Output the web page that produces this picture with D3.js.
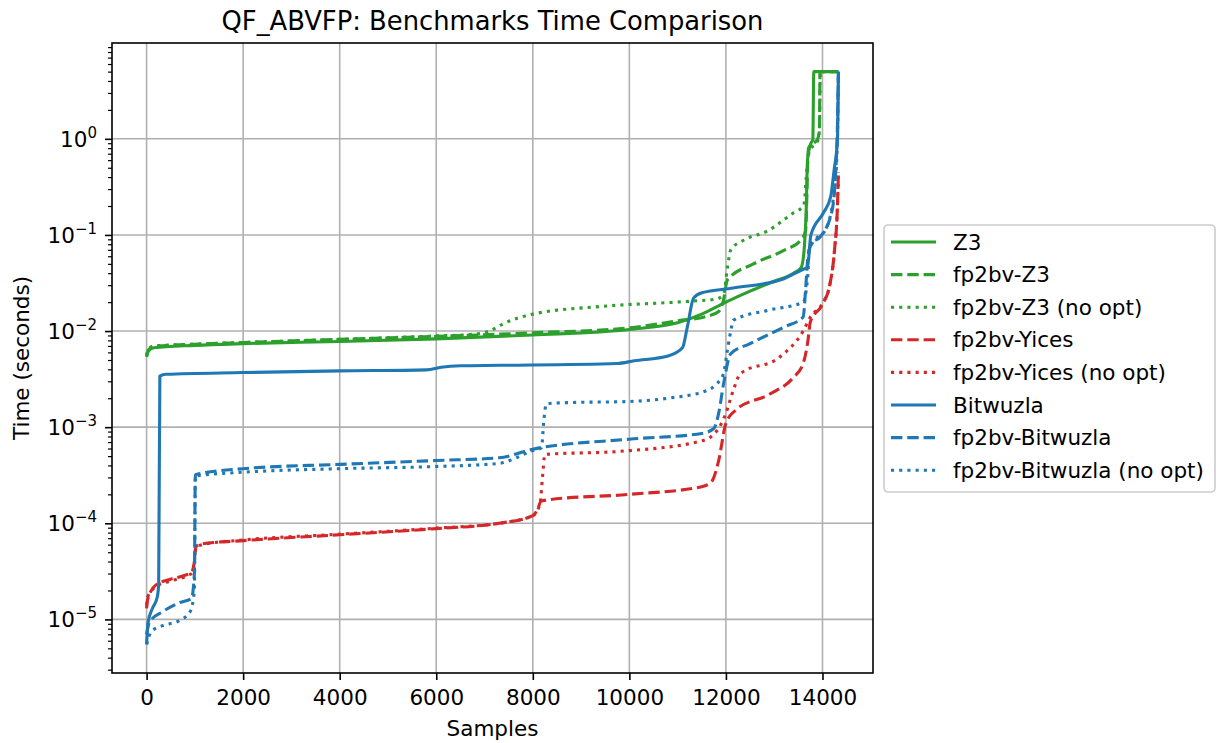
<!DOCTYPE html>
<html>
<head>
<meta charset="utf-8">
<script src="https://cdn.jsdelivr.net/npm/d3@7"></script>
<style>
  body { margin: 0; background: #fff; }
  text { font-family: "DejaVu Sans", sans-serif; fill: #000; }
</style>
</head>
<body>
<div id="graph"></div>
<script>
// --------------------------------------
//  Data (sample index, time in seconds)
// --------------------------------------

const labels = [
  "Z3", "fp2bv-Z3", "fp2bv-Z3 (no opt)",
  "fp2bv-Yices", "fp2bv-Yices (no opt)",
  "Bitwuzla", "fp2bv-Bitwuzla", "fp2bv-Bitwuzla (no opt)"
];

const z3 = [
  [0, 5.4e-3], [40, 6.2e-3], [150, 6.7e-3], [1000, 7.1e-3], [2000, 7.4e-3],
  [4000, 7.8e-3], [6000, 8.3e-3], [8000, 9.1e-3], [10000, 1.04e-2],
  [11000, 1.22e-2], [11500, 1.5e-2], [12000, 2.0e-2], [12500, 2.6e-2],
  [13000, 3.3e-2], [13400, 4.0e-2], [13560, 4.6e-2], [13620, 7e-2],
  [13660, 0.16], [13690, 0.6], [13760, 0.9], [13800, 0.98], [13820, 5], [14330, 5]
];

const fp2bvZ3 = [
  [0, 5.5e-3], [40, 6.4e-3], [150, 6.9e-3], [1000, 7.3e-3], [2000, 7.6e-3],
  [4000, 8.2e-3], [6000, 8.8e-3], [8000, 9.6e-3], [10000, 1.08e-2],
  [11000, 1.28e-2], [11600, 1.42e-2], [11850, 1.6e-2], [11950, 2.1e-2],
  [12030, 3.4e-2], [12570, 5.0e-2], [13200, 6.9e-2], [13550, 8.8e-2],
  [13650, 0.11], [13710, 0.8], [13900, 1.0], [13935, 1.2], [13950, 5], [14330, 5]
];

const fp2bvZ3NoOpt = [
  [0, 5.6e-3], [40, 6.5e-3], [150, 7.0e-3], [1000, 7.3e-3], [2000, 7.6e-3],
  [4000, 8.2e-3], [6000, 8.9e-3], [6700, 9.2e-3], [7100, 1.0e-2],
  [7400, 1.2e-2], [8000, 1.5e-2], [9400, 1.8e-2], [11300, 2.05e-2],
  [11800, 2.15e-2], [11950, 2.4e-2], [12030, 4.5e-2], [12100, 7.0e-2],
  [12365, 8.8e-2], [12860, 0.11], [13400, 0.17], [13610, 0.2],
  [13680, 0.5], [13730, 0.75], [13900, 0.95], [13935, 1.2], [13955, 5], [14330, 5]
];

const fp2bvYices = [
  [0, 1.3e-5], [20, 1.6e-5], [200, 2.3e-5], [480, 2.6e-5], [930, 3.1e-5],
  [990, 4e-5], [1020, 5.7e-5], [1150, 6.1e-5], [2000, 6.6e-5], [4000, 7.6e-5],
  [6000, 8.8e-5], [7300, 1.0e-4], [8000, 1.2e-4], [8100, 1.4e-4],
  [8170, 1.7e-4], [8300, 1.75e-4], [10000, 2.0e-4], [11500, 2.4e-4],
  [11700, 2.7e-4], [11850, 4.5e-4], [12000, 1.1e-3], [12200, 1.5e-3],
  [12900, 2.2e-3], [13400, 3.3e-3], [13600, 4.6e-3], [13700, 8e-3],
  [13750, 1.25e-2], [14000, 1.9e-2], [14150, 3.0e-2], [14250, 7e-2],
  [14310, 0.2], [14330, 0.45]
];

const fp2bvYicesNoOpt = [
  [0, 1.4e-5], [20, 1.7e-5], [200, 2.2e-5], [480, 2.5e-5], [930, 3.0e-5],
  [990, 4e-5], [1020, 5.6e-5], [1150, 6.0e-5], [2000, 6.7e-5], [4000, 7.7e-5],
  [6000, 8.9e-5], [7300, 1.0e-4], [8000, 1.2e-4], [8150, 1.6e-4],
  [8200, 3e-4], [8250, 5.2e-4], [9800, 5.6e-4], [11500, 7.2e-4],
  [11800, 9e-4], [12000, 1.4e-3], [12150, 2.4e-3], [12300, 3.6e-3],
  [13100, 5.3e-3], [13600, 1.0e-2], [13750, 1.4e-2], [14000, 1.95e-2],
  [14150, 3.0e-2], [14250, 7e-2], [14310, 0.2], [14330, 0.42]
];

const bitwuzla = [
  [0, 5.5e-6], [30, 9.3e-6], [120, 1.3e-5], [220, 1.7e-5], [250, 2.3e-5],
  [275, 3.4e-3], [400, 3.55e-3], [2000, 3.7e-3], [4000, 3.85e-3],
  [5800, 3.95e-3], [6100, 4.2e-3], [6500, 4.35e-3], [7300, 4.4e-3],
  [9750, 4.6e-3], [10100, 4.9e-3], [10800, 5.5e-3], [11100, 6.7e-3],
  [11200, 1.1e-2], [11330, 2.2e-2], [11500, 2.5e-2], [12150, 2.8e-2],
  [13200, 3.5e-2], [13600, 4.4e-2], [13690, 4.6e-2], [13760, 0.1],
  [14020, 0.17], [14170, 0.25], [14240, 0.47], [14310, 0.98], [14330, 5]
];

const fp2bvBitwuzla = [
  [0, 7e-6], [60, 9.4e-6], [330, 1.2e-5], [690, 1.5e-5], [930, 1.65e-5],
  [990, 3e-5], [1010, 3.2e-4], [2000, 3.7e-4], [4000, 4.1e-4], [6000, 4.5e-4],
  [7300, 4.8e-4], [8000, 5.9e-4], [10000, 7.5e-4], [11500, 8.6e-4],
  [11750, 9.7e-4], [11850, 1.4e-3], [11950, 2.8e-3], [12100, 5.8e-3],
  [12500, 7.4e-3], [13200, 1.1e-2], [13600, 1.4e-2], [13650, 2.7e-2],
  [13700, 5.9e-2], [13780, 8.2e-2], [13950, 9.5e-2], [14200, 0.18],
  [14300, 0.9], [14330, 5]
];

const fp2bvBitwuzlaNoOpt = [
  [0, 5.5e-6], [100, 7.5e-6], [330, 8.6e-6], [690, 9.8e-6], [900, 1.2e-5],
  [990, 2e-5], [1010, 3.1e-4], [2000, 3.4e-4], [4000, 3.7e-4], [6000, 3.9e-4],
  [7300, 4.2e-4], [8000, 5.7e-4], [8180, 6.1e-4], [8230, 1.2e-3],
  [8280, 1.75e-3], [8700, 1.8e-3], [10000, 1.85e-3], [10800, 2.0e-3],
  [11600, 2.4e-3], [11800, 2.8e-3], [11950, 3.6e-3], [12030, 6.3e-3],
  [12100, 1.0e-2], [12150, 1.29e-2], [12860, 1.64e-2], [13600, 2.0e-2],
  [13700, 4e-2], [13720, 6.9e-2], [13900, 9.5e-2], [14050, 0.11],
  [14250, 0.3], [14310, 1.0], [14330, 5]
];

const xTicks = [0, 2000, 4000, 6000, 8000, 10000, 12000, 14000];
const yTicks = [1e-5, 1e-4, 1e-3, 1e-2, 1e-1, 1];

const seriesData = [z3, fp2bvZ3, fp2bvZ3NoOpt, fp2bvYices, fp2bvYicesNoOpt,
                    bitwuzla, fp2bvBitwuzla, fp2bvBitwuzlaNoOpt];

// --------------------------------------
//  Styles
// --------------------------------------

const green = "#2ca02c", red = "#d62728", blue = "#1f77b4";
const seriesColors = [green, green, green, red, red, blue, blue, blue];
const seriesDash = [null, "11.4,4.9", "3.1,5.1", "11.4,4.9", "3.1,5.1",
                    null, "11.4,4.9", "3.1,5.1"];
const fontSize = "21.5px";

// --------------------------------------
//  Margin and canvas
// --------------------------------------

const margin = { top: 43, right: 350, bottom: 70, left: 112 };
const width = 1223 - margin.left - margin.right;
const height = 743 - margin.top - margin.bottom;

const root = d3.select("#graph")
  .append("svg")
  .attr("width", 1223)
  .attr("height", 743)
  .style("background", "#fff");

const svg = root.append("g")
  .attr("transform", "translate(" + margin.left + "," + margin.top + ")");

// --------------------------------------
//  Scales (matplotlib style 5% margins)
// --------------------------------------

const allPts = seriesData.flat();
const xMax = d3.max(allPts, d => d[0]);
const xMin = d3.min(allPts, d => d[0]);
const xPad = (xMax - xMin) * 0.05;

const x = d3.scaleLinear()
  .domain([xMin - xPad, xMax + xPad])
  .range([0, width]);

const lo = Math.log10(d3.min(allPts, d => d[1]));
const hi = Math.log10(d3.max(allPts, d => d[1]));
const yPad = (hi - lo) * 0.05;

const y = d3.scaleLog()
  .domain([Math.pow(10, lo - yPad), Math.pow(10, hi + yPad)])
  .range([height, 0]);

const minorTicks = [];
for (let k = Math.floor(lo - yPad); k <= Math.ceil(hi + yPad); k++) {
  for (let m = 2; m <= 9; m++) {
    const v = m * Math.pow(10, k);
    if (v >= y.domain()[0] && v <= y.domain()[1]) minorTicks.push(v);
  }
}

// --------------------------------------
//  Grid
// --------------------------------------

const grid = svg.append("g")
  .attr("stroke", "#b0b0b0")
  .attr("stroke-width", 1.6);

grid.selectAll(".vg")
  .data(xTicks)
  .join("line")
  .attr("x1", d => x(d)).attr("x2", d => x(d))
  .attr("y1", 0).attr("y2", height);

grid.selectAll(".hg")
  .data(yTicks)
  .join("line")
  .attr("x1", 0).attr("x2", width)
  .attr("y1", d => y(d)).attr("y2", d => y(d));

// --------------------------------------
//  Lines
// --------------------------------------

svg.append("clipPath")
  .attr("id", "clip")
  .append("rect")
  .attr("width", width)
  .attr("height", height);

const line = d3.line()
  .x(d => x(d[0]))
  .y(d => y(d[1]))
  .curve(d3.curveMonotoneX);

svg.append("g")
  .attr("clip-path", "url(#clip)")
  .selectAll("path")
  .data(seriesData)
  .join("path")
  .attr("d", line)
  .attr("fill", "none")
  .attr("stroke", (d, i) => seriesColors[i])
  .attr("stroke-width", 3.1)
  .attr("stroke-dasharray", (d, i) => seriesDash[i])
  .attr("stroke-linejoin", "round");

// --------------------------------------
//  Axes
// --------------------------------------

const xAxis = svg.append("g")
  .attr("transform", "translate(0," + height + ")")
  .call(d3.axisBottom(x).tickValues(xTicks).tickSize(7).tickPadding(7)
    .tickFormat(d3.format("d")));

xAxis.select(".domain").remove();
xAxis.selectAll("line").attr("stroke", "#000").attr("stroke-width", 1.6);
xAxis.selectAll("text")
  .attr("dy", "18px")
  .style("font-size", fontSize)
  .attr("fill", "#000");

const yMinor = svg.append("g")
  .call(d3.axisLeft(y).tickValues(minorTicks).tickSize(4).tickFormat(""));
yMinor.select(".domain").remove();
yMinor.selectAll("line").attr("stroke", "#000").attr("stroke-width", 1.2);

const yAxis = svg.append("g")
  .call(d3.axisLeft(y).tickValues(yTicks).tickSize(7).tickPadding(8)
    .tickFormat(""));

yAxis.select(".domain").remove();
yAxis.selectAll("line").attr("stroke", "#000").attr("stroke-width", 1.6);

const yText = yAxis.selectAll("text")
  .attr("dy", "7.5px")
  .style("font-size", fontSize)
  .attr("fill", "#000");

yText.append("tspan").text("10");
yText.append("tspan")
  .attr("dy", "-9")
  .style("font-size", "15px")
  .text(d => {
    const e = Math.round(Math.log10(d));
    return e < 0 ? "\u2212" + (-e) : String(e);
  });

// spines
svg.append("rect")
  .attr("width", width)
  .attr("height", height)
  .attr("fill", "none")
  .attr("stroke", "#000")
  .attr("stroke-width", 1.6);

// --------------------------------------
//  Labels
// --------------------------------------

root.append("text")
  .attr("x", margin.left + width / 2)
  .attr("y", 30)
  .attr("text-anchor", "middle")
  .style("font-size", "25.8px")
  .text("QF_ABVFP: Benchmarks Time Comparison");

root.append("text")
  .attr("x", margin.left + width / 2)
  .attr("y", 736)
  .attr("text-anchor", "middle")
  .style("font-size", fontSize)
  .text("Samples");

root.append("text")
  .attr("transform", "translate(29," + (margin.top + height / 2) + ") rotate(-90)")
  .attr("text-anchor", "middle")
  .style("font-size", fontSize)
  .text("Time (seconds)");

// --------------------------------------
//  Legend
// --------------------------------------

const legend = root.append("g")
  .attr("transform", "translate(884,225)");

legend.append("rect")
  .attr("width", 331)
  .attr("height", 267)
  .attr("rx", 4)
  .attr("fill", "#fff")
  .attr("fill-opacity", 0.8)
  .attr("stroke", "#cccccc")
  .attr("stroke-width", 1.6);

const item = legend.selectAll(".item")
  .data(labels)
  .join("g")
  .attr("transform", (d, i) => "translate(0," + (17 + i * 32.6) + ")");

item.append("line")
  .attr("x1", 7).attr("x2", 52)
  .attr("stroke", (d, i) => seriesColors[i])
  .attr("stroke-width", 3.1)
  .attr("stroke-dasharray", (d, i) => seriesDash[i]);

item.append("text")
  .attr("x", 69)
  .attr("y", 7.5)
  .style("font-size", fontSize)
  .text(d => d);
</script>
</body>
</html>
